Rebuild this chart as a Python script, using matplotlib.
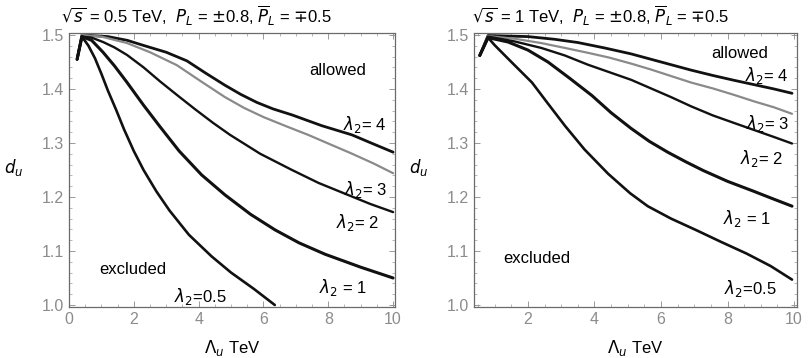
import matplotlib
matplotlib.use("Agg")
import matplotlib.pyplot as plt
from matplotlib.ticker import MultipleLocator

plt.rcParams['font.family'] = ['Liberation Sans', 'DejaVu Sans']
plt.rcParams['mathtext.fontset'] = 'dejavusans'

# ---------------- data: left panel (sqrt(s) = 0.5 TeV) ----------------
L_x_l4 = [0.25, 0.4, 1.2, 1.8, 2.28, 3.0, 3.64, 4.2, 4.81, 5.3, 5.8, 6.3, 6.88, 7.8, 8.73, 9.4, 10.0]
L_y_l4 = [1.455, 1.5, 1.497, 1.49, 1.481, 1.468, 1.452, 1.43, 1.407, 1.39, 1.375, 1.363, 1.352, 1.332, 1.315, 1.298, 1.283]
L_x_l3 = [0.25, 0.4, 1.0, 1.79, 2.5, 3.33, 4.1, 4.81, 5.4, 6.0, 6.7, 7.38, 8.0, 8.7, 9.4, 10.0]
L_y_l3 = [1.455, 1.5, 1.497, 1.485, 1.468, 1.444, 1.413, 1.385, 1.365, 1.348, 1.331, 1.315, 1.299, 1.281, 1.262, 1.244]
L_x_l2 = [0.25, 0.4, 0.7, 1.05, 1.4, 1.79, 2.3, 2.81, 3.35, 3.9, 4.45, 4.97, 5.9, 6.88, 7.7, 8.6, 9.3, 10.0]
L_y_l2 = [1.455, 1.497, 1.495, 1.487, 1.477, 1.463, 1.44, 1.414, 1.388, 1.362, 1.337, 1.315, 1.28, 1.25, 1.226, 1.204, 1.187, 1.172]
L_x_l1 = [0.25, 0.4, 0.7, 1.05, 1.4, 1.78, 2.3, 2.81, 3.4, 4.09, 4.81, 5.6, 6.36, 7.1, 7.9, 9.0, 10.0]
L_y_l1 = [1.455, 1.497, 1.49, 1.468, 1.443, 1.413, 1.37, 1.33, 1.285, 1.241, 1.204, 1.168, 1.139, 1.115, 1.094, 1.07, 1.05]
L_x_l05 = [0.25, 0.4, 0.6, 0.8, 1.0, 1.2, 1.45, 1.7, 2.0, 2.3, 2.7, 3.1, 3.7, 4.4, 5.0, 5.7, 6.35]
L_y_l05 = [1.455, 1.497, 1.48, 1.457, 1.428, 1.397, 1.362, 1.325, 1.285, 1.25, 1.21, 1.175, 1.13, 1.09, 1.06, 1.03, 1.0]

# ---------------- data: right panel (sqrt(s) = 1 TeV) ----------------
R_x_l4 = [0.55, 0.8, 2.0, 2.8, 3.5, 4.3, 5.1, 5.7, 6.3, 6.9, 7.56, 8.2, 8.8, 9.4, 9.94]
R_y_l4 = [1.462, 1.499, 1.497, 1.492, 1.486, 1.476, 1.465, 1.455, 1.445, 1.435, 1.425, 1.416, 1.408, 1.4, 1.392]
R_x_l3 = [0.55, 0.8, 1.6, 2.4, 3.11, 3.8, 4.45, 5.1, 5.7, 6.3, 6.9, 7.56, 8.2, 8.8, 9.4, 9.94]
R_y_l3 = [1.462, 1.498, 1.493, 1.485, 1.476, 1.467, 1.458, 1.447, 1.436, 1.424, 1.412, 1.401, 1.389, 1.377, 1.366, 1.354]
R_x_l2 = [0.55, 0.8, 1.6, 2.4, 3.11, 3.8, 4.45, 5.1, 5.7, 6.3, 6.9, 7.56, 8.2, 8.8, 9.4, 9.94]
R_y_l2 = [1.462, 1.497, 1.488, 1.476, 1.462, 1.445, 1.431, 1.417, 1.401, 1.385, 1.368, 1.351, 1.337, 1.324, 1.311, 1.299]
R_x_l1 = [0.55, 0.8, 1.4, 2.0, 2.6, 3.25, 3.92, 4.5, 5.1, 5.65, 6.2, 6.75, 7.27, 8.0, 8.77, 9.35, 9.94]
R_y_l1 = [1.462, 1.495, 1.487, 1.472, 1.45, 1.42, 1.388, 1.356, 1.327, 1.303, 1.283, 1.265, 1.249, 1.229, 1.211, 1.197, 1.183]
R_x_l05 = [0.55, 0.8, 1.0, 1.5, 2.12, 2.6, 3.11, 3.7, 4.41, 5.07, 5.6, 6.3, 7.08, 7.8, 8.58, 9.3, 9.94]
R_y_l05 = [1.462, 1.495, 1.481, 1.45, 1.412, 1.373, 1.332, 1.288, 1.243, 1.207, 1.183, 1.16, 1.138, 1.117, 1.095, 1.072, 1.047]

left_title = r'$\sqrt{s}$ = 0.5 TeV,  $P_L$ = $\pm$0.8, $\overline{P}_L$ = $\mp$0.5'
right_title = r'$\sqrt{s}$ = 1 TeV,  $P_L$ = $\pm$0.8, $\overline{P}_L$ = $\mp$0.5'
left_xticks = [0, 2, 4, 6, 8, 10]
right_xticks = [2, 4, 6, 8, 10]
yticks = [1.0, 1.1, 1.2, 1.3, 1.4, 1.5]

fig = plt.figure(figsize=(8.08, 3.58), dpi=100)
axL = fig.add_axes([0.0854, 0.1425, 0.4035, 0.7654])
axR = fig.add_axes([0.5866, 0.1425, 0.3998, 0.7654])

GREY = '#8a8a8a'
TICKC = '#9a9a9a'
LKW = dict(solid_joinstyle='round', solid_capstyle='round')

def style(ax, xlim, xticks):
    ax.set_xlim(*xlim)
    ax.set_ylim(0.9963, 1.5037)
    ax.set_xticks(xticks)
    ax.set_yticks(yticks)
    ax.set_xticklabels([str(t) for t in xticks])
    ax.set_yticklabels(['%.1f' % t for t in yticks])
    ax.xaxis.set_minor_locator(MultipleLocator(0.5))
    ax.yaxis.set_minor_locator(MultipleLocator(0.02))
    ax.tick_params(which='both', direction='in', top=True, right=True,
                   colors=TICKC, labelcolor='#8c8c8c', labelsize=11.5)
    ax.tick_params(which='major', length=4, width=0.7)
    ax.tick_params(which='minor', length=2, width=0.5)
    for s in ax.spines.values():
        s.set_linestyle((0, (1, 1)))
        s.set_color('#6a6a6a')
        s.set_linewidth(0.9)
    ax.set_xlabel(r'$\Lambda_u$ TeV', fontsize=12, labelpad=8)
    ax.set_ylabel(r'$d_u$', fontsize=12, rotation=0, labelpad=12)

# left panel
axL.plot(L_x_l4, L_y_l4, color='#111111', lw=2.0, **LKW)
axL.plot(L_x_l3, L_y_l3, color=GREY, lw=1.6, **LKW)
axL.plot(L_x_l2, L_y_l2, color='#111111', lw=1.7, **LKW)
axL.plot(L_x_l1, L_y_l1, color='#111111', lw=2.2, **LKW)
axL.plot(L_x_l05, L_y_l05, color='#111111', lw=1.9, **LKW)
style(axL, (0, 10.06), left_xticks)
axL.yaxis.set_label_coords(-0.17, 0.47)

axL.text(8.3, 1.435, 'allowed', fontsize=12, ha='center', va='center')
axL.text(9.14, 1.335, r'$\lambda_2$= 4', fontsize=12, ha='center', va='center')
axL.text(9.14, 1.213, r'$\lambda_2$= 3', fontsize=12, ha='center', va='center')
axL.text(8.9, 1.152, r'$\lambda_2$= 2', fontsize=12, ha='center', va='center')
axL.text(8.46, 1.033, r'$\lambda_2$ = 1', fontsize=12, ha='center', va='center')
axL.text(1.98, 1.065, 'excluded', fontsize=12, ha='center', va='center')
axL.text(4.04, 1.015, r'$\lambda_2$=0.5', fontsize=12, ha='center', va='center')

# right panel
axR.plot(R_x_l4, R_y_l4, color='#111111', lw=2.0, **LKW)
axR.plot(R_x_l3, R_y_l3, color=GREY, lw=1.6, **LKW)
axR.plot(R_x_l2, R_y_l2, color='#111111', lw=1.7, **LKW)
axR.plot(R_x_l1, R_y_l1, color='#111111', lw=2.2, **LKW)
axR.plot(R_x_l05, R_y_l05, color='#111111', lw=1.9, **LKW)
style(axR, (0.376, 10.09), right_xticks)
axR.yaxis.set_label_coords(-0.17, 0.47)

axR.text(8.38, 1.465, 'allowed', fontsize=12, ha='center', va='center')
axR.text(9.19, 1.425, r'$\lambda_2$= 4', fontsize=12, ha='center', va='center')
axR.text(9.22, 1.336, r'$\lambda_2$= 3', fontsize=12, ha='center', va='center')
axR.text(9.04, 1.272, r'$\lambda_2$= 2', fontsize=12, ha='center', va='center')
axR.text(8.58, 1.16, r'$\lambda_2$ = 1', fontsize=12, ha='center', va='center')
axR.text(8.67, 1.03, r'$\lambda_2$=0.5', fontsize=12, ha='center', va='center')
axR.text(2.28, 1.086, 'excluded', fontsize=12, ha='center', va='center')

fig.text(197 / 808, 1 - 16 / 358, left_title, fontsize=12, ha='center', va='center')
fig.text(601 / 808, 1 - 16 / 358, right_title, fontsize=12, ha='center', va='center')

fig.savefig('out.png', dpi=100)
